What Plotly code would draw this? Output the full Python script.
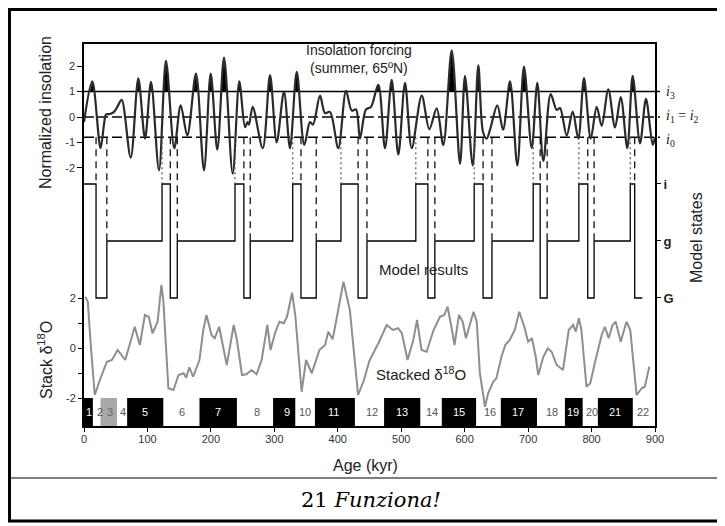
import plotly.graph_objects as go

# ---------------- data ----------------
# normalized summer insolation 65N (kyr, value)
ins_age = [0, 13, 26, 31.5, 34.7, 41, 47.3, 53.6, 59.4, 73.6, 85.6, 96.2, 105.6, 118.2, 129.2,
           142.3, 152.4, 162.8, 176.5, 189.1, 199.7, 210.1, 220.7, 234.4, 244.8, 253.8, 257.7,
           260, 265.9, 281.7, 293.2, 303.7, 315.2, 324.7, 335.3, 347.2, 356.2, 361, 372, 379.9,
           387.7, 400.8, 413, 422, 428.7, 435, 444.5, 452.4, 463.9, 474.4, 485, 495.4, 506,
           516.5, 532.3, 544.3, 555.9, 566.3, 579.6, 592.7, 600.5, 612.7, 621.5, 629, 634.7,
           640, 651.5, 660.5, 671.5, 683, 693.5, 705.7, 714.5, 724, 735.6, 745, 750.3, 760.8,
           770.3, 779.1, 788.1, 798.7, 808.1, 816, 826.4, 837, 846, 856.4, 864.8, 876.4,
           885.8, 896.4, 900]
ins_val = [-0.2, 1.4, -1.23, -0.3, 0.1, 0.12, 0.2, 0.45, 0.68, -1.6, 1.52, -0.85, 1.38, -2.1, 2.21,
           -1.23, 0.46, -0.73, 1.71, -2.1, 1.71, -1.29, 2.34, -2.23, 1.4, -0.4, -0.2,
           -0.3, 0.4, -1.23, 1.65, -1.0, 1.0, -1.23, 1.78, -1.1, -0.2, -0.3, 0.84, 0.15,
           0.2, -1.23, 1.03, 0.25, 0.3, -0.85, 0.3, 0.4, 1.28, -1.23, 1.46, -1.48, 1.34,
           -1.23, 0.84, -0.48, 0.34, -1.1, 2.62, -1.85, 1.62, -1.91, 2.03, -0.6, -0.85,
           -0.5, 0.46, -0.5, 1.4, -1.91, 1.98, -1.23, 1.34, -1.73, 0.9, 0.28, 0.35, -0.73,
           0.21, -0.85, 1.53, -0.85, 0.4, -0.35, 1.09, -0.41, 0.78, -1.23, 1.62, -1.04,
           0.71, -1.1, -0.8]
ins_thresholds = [1.0, 0.0, -0.8]          # i3, i1=i2, i0

# stacked d18O (kyr, value)
d18o_age = [2, 6, 11, 17, 25, 36, 44, 53, 65, 80, 88, 96, 102, 108, 116, 122, 125, 133, 141, 149,
            157, 161, 166, 172, 182, 188, 193, 201, 206, 213, 225, 236, 241, 249, 256, 264, 272,
            280, 289, 294, 301, 308, 315, 320, 328, 333, 343, 350, 359, 371, 380, 385, 392, 409,
            419, 432, 441, 450, 464, 477, 487, 495, 501, 510, 519, 525, 532, 540, 551, 561, 568,
            573, 580, 584, 591, 597, 602, 614, 619, 624, 632, 637, 645, 650, 658, 664, 671, 679,
            686, 694, 700, 706, 712, 716, 724, 731, 737, 745, 755, 764, 771, 775, 780, 784, 792,
            798, 805, 816, 821, 827, 833, 838, 846, 855, 861, 871, 879, 884, 891]
d18o_val = [2.05, 1.85, 0.0, -1.88, -1.28, -0.55, -0.48, -0.08, -0.48, 0.85, 0.12, 1.32, 1.25, 0.59,
            1.05, 2.52, 1.92, -1.61, -1.68, -1.08, -1.01, -1.19, -0.77, -1.15, -0.48, 0.72, 1.32,
            0.52, 0.39, 0.85, -0.68, 0.92, 0.32, -1.08, -1.05, -0.88, -1.05, -0.48, 0.92, -0.08,
            0.59, 1.05, 0.99, 1.25, 2.21, 1.32, -1.75, -0.48, -1.01, -0.08, 0.12, 0.65, 0.35, 2.65,
            1.52, -1.88, -1.3, -0.5, 0.19, 0.92, 0.72, 0.79, 0.59, -0.48, 0.32, 1.12, -0.08, -0.15,
            0.72, 1.25, 1.32, 1.65, 0.72, 0.12, 1.32, 1.05, 0.39, 1.45, 1.05, -1.01, -2.35, -1.81,
            -1.35, -1.21, -0.35, 0.12, 0.32, 0.72, 1.45, 0.85, 0.25, 0.39, -0.35, -1.08, -0.35,
            -0.01, -0.15, -0.68, -0.88, 0.72, 0.92, 0.65, 1.19, 0.72, -1.55, -1.41, -0.61, 0.52,
            0.85, 0.39, 0.92, 1.05, 0.25, 1.05, 0.72, -1.88, -1.61, -1.55, -0.75]

# model states (G=0, g=1, i=2)
state_age = [0, 19, 36, 123, 136, 147, 238, 252, 262, 329, 342, 366, 405, 432, 446, 523, 542,
             553, 615, 629, 643, 708, 719, 730, 780, 794, 804, 861, 868, 880]
state_lab = ['i', 'G', 'g', 'i', 'G', 'g', 'i', 'G', 'g', 'i', 'G', 'g', 'i', 'G', 'g', 'i', 'G',
             'g', 'i', 'G', 'g', 'i', 'G', 'g', 'i', 'G', 'g', 'i', 'G', 'G']
state_names = ['G', 'g', 'i']

# marine isotope stages
stage_num = list(range(1, 23))
stage_label_age = [8, 25, 41, 61, 96, 154, 211, 273, 320, 348, 394, 454, 501, 549, 591, 640,
                   684, 738, 771, 801, 837, 881]
box_stage = [1, 3, 5, 7, 9, 11, 13, 15, 17, 19, 21]
box_start = [0, 26, 68, 182, 298, 364, 473, 564, 657, 758, 810]
box_end = [14, 52, 125, 241, 333, 427, 530, 618, 714, 786, 865]

# ---------------- geometry helpers ----------------
# reference pixel frame of the plot area; the page body adds an 8px offset
OFF = 8
L, R, T, B = 84, 655, 44, 426
W, H = 725 - OFF, 526 - OFF


def P(px, py):
    return (px - L) / (R - L), (B - py) / (B - T)


r_ins = [-12.165, 2.874]
r_st = [-2.246, 4.456]
r_d = [-3.12, 12.16]


def conv(v, ra, rb):
    f = (v - ra[0]) / (ra[1] - ra[0])
    return rb[0] + f * (rb[1] - rb[0])


fig = go.Figure()

# stage boxes
fig.add_trace(go.Bar(
    x=[(s + e) / 2 for s, e in zip(box_start, box_end)],
    y=[-2 - r_d[0]] * len(box_start), base=r_d[0],
    width=[e - s for s, e in zip(box_start, box_end)],
    marker=dict(color=['#a8a8a8' if n == 3 else 'black' for n in box_stage], line_width=0),
    yaxis='y3', hoverinfo='skip', showlegend=False))

# insolation fill above i3
fx, fy = [], []
thr = ins_thresholds[0]
n = len(ins_age)
k = 0
while k < n:
    if ins_val[k] > thr:
        if k > 0:
            a0, v0, a1, v1 = ins_age[k - 1], ins_val[k - 1], ins_age[k], ins_val[k]
            fx.append(a0 + (thr - v0) / (v1 - v0) * (a1 - a0)); fy.append(thr)
        while k < n and ins_val[k] > thr:
            fx.append(ins_age[k]); fy.append(ins_val[k]); k += 1
        if k < n:
            a0, v0, a1, v1 = ins_age[k - 1], ins_val[k - 1], ins_age[k], ins_val[k]
            fx.append(a0 + (thr - v0) / (v1 - v0) * (a1 - a0)); fy.append(thr)
        fx.append(None); fy.append(None)
    k += 1
fig.add_trace(go.Scatter(x=fx, y=fy, fill='toself', fillcolor='black', mode='lines',
                         line=dict(width=0.5, color='black'), yaxis='y', showlegend=False,
                         hoverinfo='skip'))

# insolation curve
fig.add_trace(go.Scatter(x=ins_age, y=ins_val, mode='lines',
                         line=dict(color='#2a2a2a', width=2.2, shape='spline', smoothing=0.9),
                         yaxis='y', showlegend=False, hoverinfo='skip'))

# d18O curve
fig.add_trace(go.Scatter(x=d18o_age, y=d18o_val, mode='lines',
                         line=dict(color='#8e8e8e', width=2), yaxis='y3',
                         showlegend=False, hoverinfo='skip'))

# model states
sv = [state_names.index(s) for s in state_lab]
fig.add_trace(go.Scatter(x=state_age, y=sv, mode='lines',
                         line=dict(color='black', width=1.3, shape='hv'), yaxis='y2',
                         showlegend=False, hoverinfo='skip'))

# dashed / dotted transition markers
i0_st = conv(ins_thresholds[2], r_ins, r_st)
dx, dy, ox, oy = [], [], [], []
for j in range(1, len(state_age) - 1):
    a, new, old = state_age[j], sv[j], sv[j - 1]
    if old == 2 and new == 0:        # i -> G
        dx += [a, a, None]; dy += [i0_st, 2, None]
    elif old == 0 and new == 1:      # G -> g
        dx += [a, a, None]; dy += [i0_st, 1, None]
    elif old == 1 and new == 2:      # g -> i
        ox += [a, a, None]; oy += [i0_st, 2, None]
fig.add_trace(go.Scatter(x=dx, y=dy, mode='lines', yaxis='y2', showlegend=False,
                         line=dict(color='black', width=1.2, dash='7px,5px'), hoverinfo='skip'))
fig.add_trace(go.Scatter(x=ox, y=oy, mode='lines', yaxis='y2', showlegend=False,
                         line=dict(color='#555', width=1.2, dash='2px,3px'), hoverinfo='skip'))

# threshold lines
shapes = []
x_end = P(660, 0)[0]
for v, d in zip(ins_thresholds, ['solid', '10px,4px', '10px,4px']):
    yy = conv(v, r_ins, [0, 1])
    shapes.append(dict(type='line', xref='paper', yref='paper', x0=0, x1=x_end, y0=yy, y1=yy,
                       line=dict(color='black', width=1.5, dash=d), layer='below'))
# outer frame (left/top edges kept inside the figure canvas)
bx0, by0 = P(OFF + 1.5, 521)
bx1, by1 = P(719.5, OFF + 1.5)
shapes.append(dict(type='rect', xref='paper', yref='paper', x0=bx0, x1=bx1, y0=by0, y1=by1,
                   line=dict(color='black', width=3)))
sx0, sy = P(OFF + 1.5, 478)
sx1, _ = P(719.5, 478)
shapes.append(dict(type='line', xref='paper', yref='paper', x0=sx0, x1=sx1, y0=sy, y1=sy,
                   line=dict(color='black', width=1.2)))

SANS = 'Liberation Sans, Arial, sans-serif'
ann = []


def add_text(txt, px, py, size=13, angle=0, color='#222', font=SANS, xanchor='center'):
    x, y = P(px, py)
    ann.append(dict(text=txt, x=x, y=y, xref='paper', yref='paper', showarrow=False,
                    textangle=angle, xanchor=xanchor, yanchor='middle',
                    font=dict(size=size, color=color, family=font)))


add_text('Insolation forcing<br>(summer, 65ºN)', 359, 59, size=14)
add_text('Model results', 423, 269, size=15)
add_text('Stacked δ<sup>18</sup>O', 421, 373, size=15)
add_text('Normalized insolation', 45, 113, size=16, angle=-90)
add_text('Stack δ<sup>18</sup>O', 45, 360, size=16, angle=-90)
add_text('Model states', 696, 238, size=16, angle=-90)
add_text('Age (kyr)', 365, 465, size=16)
SERIF = 'Liberation Serif, Times New Roman, serif'
add_text('<i>i</i><sub>3</sub>', 664, 92, size=14, font=SERIF, xanchor='left')
add_text('<i>i</i><sub>1</sub> = <i>i</i><sub>2</sub>', 664, 117, size=14, font=SERIF, xanchor='left')
add_text('<i>i</i><sub>0</sub>', 664, 140, size=14, font=SERIF, xanchor='left')
add_text('21 <i>Funziona!</i>', 371, 500, size=21, font='DejaVu Serif, serif', color='black')

# stage numbers
for num, a in zip(stage_num, stage_label_age):
    if num in box_stage and num != 3:
        col = 'white'
    elif num == 3:
        col = '#666'
    else:
        col = '#555'
    ann.append(dict(text=str(num), x=a, y=-2.56, xref='x', yref='y3', showarrow=False,
                    font=dict(size=11, color=col, family=SANS)))

fig.update_layout(
    width=W, height=H, margin=dict(l=L - OFF, r=W - (R - OFF), t=T - OFF, b=H - (B - OFF)),
    paper_bgcolor='white', plot_bgcolor='white', barmode='overlay',
    showlegend=False, shapes=shapes, annotations=ann,
    xaxis=dict(range=[0, 900], tickvals=list(range(0, 1000, 100)), ticks='outside', ticklen=4,
               ticklabelstandoff=-2,
               tickcolor='black', showline=True, linecolor='black', linewidth=1.5, mirror=True,
               showgrid=False, zeroline=False, tickfont=dict(size=11, color='#333', family=SANS)),
    yaxis=dict(range=r_ins, tickvals=[-2, -1, 0, 1, 2], ticktext=['-2', '-1', '0', '1', '2'],
               ticks='outside', ticklen=5, tickcolor='black', showline=True, linecolor='black',
               linewidth=1.5, mirror=True, showgrid=False, zeroline=False,
               tickfont=dict(size=11, color='#333', family=SANS)),
    yaxis2=dict(range=r_st, overlaying='y', side='right', tickvals=[0, 1, 2],
                ticktext=['<b>G</b>', '<b>g</b>', '<b>i</b>'], ticks='outside', ticklen=5,
                tickcolor='black', showline=False, showgrid=False, zeroline=False,
                tickfont=dict(size=13, color='#222', family=SANS)),
    yaxis3=dict(range=r_d, overlaying='y', side='left', tickvals=[-2, -1, 0, 1, 2],
                ticktext=['-2', '', '0', '', '2'], ticks='outside', ticklen=5, tickcolor='black',
                showline=False, showgrid=False, zeroline=False,
                tickfont=dict(size=11, color='#333', family=SANS)),
)

fig.write_html('out.html')
